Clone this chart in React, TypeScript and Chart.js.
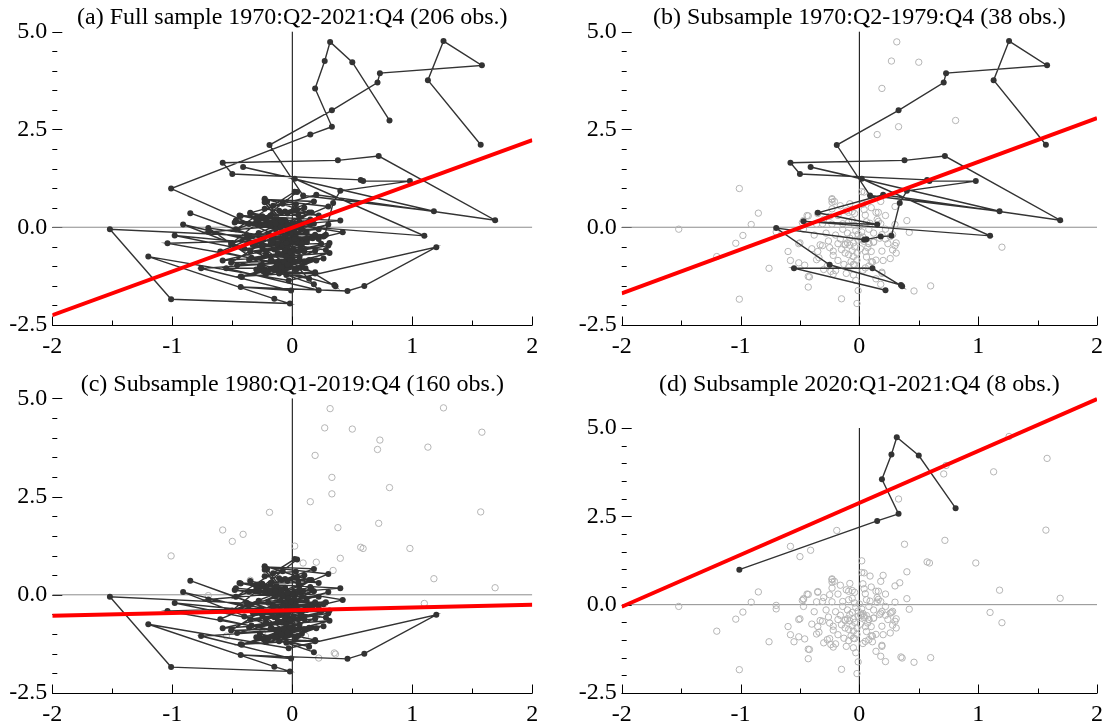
import { useEffect, useRef } from "react";
import { Chart, registerables } from "chart.js";

Chart.register(...registerables);

// ---------------- data ----------------
const x1970s = [1.57, 1.13, 1.26, 1.58, 0.73, 0.71, 0.33, -0.19, 0.09, 1.18, -0.41, 0.02, 1.10, -0.47, 0.15, -0.35, 0.20, 1.69, 0.72, 0.38, -0.58, -0.50, 0.57, 0.59, 0.98, 0.40, 0.34, 0.27, 0.18, 0.06, 0.04, -0.70, -0.25, 0.35, 0.36, 0.11, -0.55, 0.22];
const y1970s = [2.11, 3.76, 4.76, 4.14, 3.94, 3.70, 2.99, 2.10, 0.81, 0.41, 1.54, 1.24, -0.22, 0.15, 0.07, 0.37, 0.83, 0.18, 1.82, 1.71, 1.65, 1.36, 1.21, 1.18, 1.18, 0.93, 0.62, -0.22, -0.24, -0.31, -0.32, -0.02, -0.96, -1.48, -1.51, -1.05, -1.05, -1.61];

const x1980s = [
  -0.12, -0.85, 0.05, -0.91, -0.05, -1.04, 0.22, -1.52, -1.01, -0.02,
  -0.15, -1.20, -0.03, 1.20, 0.60, 0.46, -0.43, -0.01, -0.76, 0.10,
  -0.98, 0.28, -0.70, 0.40, -0.44, 0.42, -0.58, 0.31, -0.43, 0.19,
  -0.60, 0.30, -0.23, 0.18, -0.47, 0.02, 0.04, -0.51, 0.15, -0.50,
  0.16, -0.51, 0.14, -0.46, 0.31, -0.36, 0.30, -0.34, 0.19, -0.42,
  0.11, -0.30, 0.08, -0.24, 0.05, -0.22, 0.19, -0.20, 0.14, -0.27,
  0.18, -0.05, -0.11, 0.20, -0.13, 0.26, -0.18, 0.06, -0.22, 0.10,
  -0.33, 0.24, -0.31, 0.12, -0.40, 0.08, -0.35, 0.07, -0.22, 0.17,
  -0.38, 0.19, -0.28, 0.28, -0.26, 0.26, -0.16, 0.30, -0.18, 0.18,
  -0.20, 0.16, -0.14, 0.22, -0.10, 0.12, -0.06, 0.09, -0.03, 0.06,
  -0.36, 0.08, -0.31, 0.02, -0.48, 0.00, -0.47, -0.04, -0.43, -0.06,
  -0.35, -0.09, -0.25, -0.14, -0.30, -0.23, -0.18, 0.05, -0.11, 0.14,
  -0.09, 0.04, -0.06, 0.10, -0.04, 0.03, -0.16, -0.08, -0.23, 0.22,
  -0.23, -0.01, -0.21, 0.01, -0.23, -0.01, -0.12, 0.03, -0.10, 0.04,
  -0.08, -0.04, -0.15, 0.01, -0.12, -0.06, -0.09, -0.02, -0.05, -0.02,
  -0.07, 0.03, -0.04, -0.25, -0.09, 0.12, 0.08, -0.05, 0.02, -0.08,
];
const y1980s = [
  -0.45, 0.36, -0.62, 0.07, -0.95, -0.41, -0.30, -0.05, -1.84, -1.95,
  -1.83, -0.75, -1.36, -0.51, -1.50, -1.63, -1.53, -1.62, -1.05, -0.88,
  -0.21, -0.58, -0.12, 0.17, 0.30, -0.13, -0.85, -0.66, -1.26, -1.15,
  -0.62, 0.53, 0.71, 0.66, -0.05, 0.91, 0.90, -0.42, 0.20, -0.40,
  0.38, -0.91, -0.84, -0.97, -0.40, -0.83, -0.47, -0.78, -0.61, -1.27,
  -0.89, -1.08, -0.99, -1.13, -1.04, -1.20, -1.18, -1.11, -1.32, -0.99,
  -1.46, -1.22, -1.18, -0.85, -0.95, -0.80, -0.85, -0.76, -0.72, -0.62,
  -0.45, -0.42, -0.47, -0.38, -0.55, -0.42, -0.62, -0.52, -0.61, -0.28,
  -0.20, -0.19, -0.15, -0.19, -0.35, -0.24, -0.30, 0.07, -0.42, 0.09,
  -0.20, 0.15, -0.05, -0.05, -0.15, -0.15, -0.22, 0.10, -0.08, 0.14,
  0.08, -0.05, 0.09, -0.12, 0.12, 0.02, 0.17, 0.05, 0.29, 0.18,
  0.35, 0.14, 0.28, 0.09, 0.20, 0.08, 0.30, 0.31, 0.42, 0.38,
  0.38, 0.45, 0.40, 0.50, 0.35, 0.59, 0.55, 0.60, 0.47, 0.30,
  0.73, -0.18, 0.66, -0.28, 0.64, -0.33, -0.43, -0.25, -0.40, -0.36,
  -0.46, -0.50, -0.57, -0.55, -0.66, -0.60, -0.70, -0.66, -0.75, -0.84,
  -0.88, -1.10, -0.96, -0.52, -1.02, -0.38, -0.42, -0.40, -0.30, -0.28,
];

const x2020s = [-1.01, 0.15, 0.33, 0.19, 0.27, 0.315, 0.50, 0.81];
const y2020s = [0.99, 2.37, 2.57, 3.55, 4.25, 4.74, 4.22, 2.73];

// regression lines (intercept, slope) for panels a, b, c, d
const fitIntercepts = [-0.01, 0.55, -0.39, 2.88];
const fitSlopes = [1.12, 1.12, 0.07, 1.47];

const panelTitles = [
  "(a) Full sample 1970:Q2-2021:Q4 (206 obs.)",
  "(b) Subsample 1970:Q2-1979:Q4 (38 obs.)",
  "(c) Subsample 1980:Q1-2019:Q4 (160 obs.)",
  "(d) Subsample 2020:Q1-2021:Q4 (8 obs.)",
];

const xTickValues = [-2, -1, 0, 1, 2];
const xTickLabels = ["-2", "-1", "0", "1", "2"];
const yTickValues = [-2.5, 0, 2.5, 5];
const yTickLabels = ["-2.5", "0.0", "2.5", "5.0"];

// ---------------- helpers ----------------
const pts = (xs: number[], ys: number[]) => xs.map((x, i) => ({ x, y: ys[i] }));

const FONT = '"Liberation Serif", "Times New Roman", serif';
const FONT_SIZE = 24;

const framePlugin = {
  id: "frame",
  beforeDatasetsDraw(chart: any) {
    const { ctx, chartArea: ca, scales } = chart;
    const xs = scales.x;
    const ys = scales.y;
    const yb = Math.round(ys.getPixelForValue(-2.5)) + 0.5;
    ctx.save();
    ctx.strokeStyle = "#000";
    ctx.lineWidth = 1;
    ctx.beginPath();
    ctx.moveTo(ca.left, yb);
    ctx.lineTo(ca.right, yb);
    for (let k = 0; k <= 8; k++) {
      const v = -2 + k * 0.5;
      const px = Math.round(xs.getPixelForValue(v)) + 0.5;
      const len = k % 2 === 0 ? 9 : 5;
      ctx.moveTo(px, yb);
      ctx.lineTo(px, yb - len);
    }
    for (let k = 0; k <= 15; k++) {
      const v = -2.5 + k * 0.5;
      const py = Math.round(ys.getPixelForValue(v)) + 0.5;
      const len = k % 5 === 0 ? 10 : 5;
      ctx.moveTo(ca.left, py);
      ctx.lineTo(ca.left + len, py);
    }
    ctx.stroke();
    ctx.restore();
  },
  afterDraw(chart: any, _args: any, opts: any) {
    const { ctx, chartArea: ca } = chart;
    ctx.save();
    ctx.fillStyle = "#000";
    ctx.font = `${FONT_SIZE}px ${FONT}`;
    ctx.textAlign = "center";
    ctx.textBaseline = "alphabetic";
    ctx.fillText(opts.title, (ca.left + ca.right) / 2, opts.titleY);
    ctx.restore();
  },
};

type PanelSpec = {
  idx: number;
  left: number;
  top: number;
  width: number;
  height: number;
  areaLeft: number;
  areaRight: number;
  areaTop: number;
  areaBottom: number;
  yMax: number;
  titleY: number;
  path: { x: number; y: number }[];
  grey: { x: number; y: number }[];
};

function Panel({ spec }: { spec: PanelSpec }) {
  const ref = useRef<HTMLCanvasElement | null>(null);
  useEffect(() => {
    if (!ref.current) return;
    const a = fitIntercepts[spec.idx];
    const b = fitSlopes[spec.idx];
    const fit = [
      { x: -2, y: a + b * -2 },
      { x: 2, y: a + b * 2 },
    ];
    const chart = new Chart(ref.current, {
      type: "scatter",
      data: {
        datasets: [
          {
            data: [{ x: 0, y: -2.5 }, { x: 0, y: 5 }],
            showLine: true,
            borderColor: "#000",
            borderWidth: 1,
            pointRadius: 0,
            order: 6,
          },
          {
            data: [{ x: -2, y: 0 }, { x: 2, y: 0 }],
            showLine: true,
            borderColor: "#8c8c8c",
            borderWidth: 1,
            pointRadius: 0,
            order: 5,
          },
          {
            data: spec.grey,
            showLine: false,
            pointRadius: 3.2,
            pointBorderWidth: 1,
            pointBorderColor: "#b5b5b5",
            pointBackgroundColor: "rgba(255,255,255,0)",
            order: 4,
          },
          {
            data: spec.path,
            showLine: true,
            borderColor: "#333333",
            borderWidth: 1.4,
            pointRadius: 3,
            pointBorderWidth: 0,
            pointBackgroundColor: "#333333",
            order: 3,
          },
          {
            data: fit,
            showLine: true,
            borderColor: "#ff0000",
            borderWidth: 4,
            pointRadius: 0,
            order: 1,
          },
        ],
      },
      options: {
        animation: false,
        responsive: false,
        events: [],
        layout: {
          padding: {
            left: 0,
            right: spec.width - spec.areaRight,
            top: spec.areaTop,
            bottom: 0,
          },
        },
        plugins: {
          legend: { display: false },
          tooltip: { enabled: false },
          title: { display: false },
          // @ts-ignore
          frame: { title: panelTitles[spec.idx], titleY: spec.titleY },
        },
        scales: {
          x: {
            type: "linear",
            min: -2,
            max: 2,
            grid: { display: false, drawTicks: false },
            border: { display: false },
            afterBuildTicks: (s: any) => {
              s.ticks = xTickValues.map((v) => ({ value: v }));
            },
            afterFit: (s: any) => {
              s.height = spec.height - spec.areaBottom;
            },
            ticks: {
              autoSkip: false,
              maxRotation: 0,
              padding: 7,
              color: "#000",
              font: { family: FONT, size: FONT_SIZE },
              callback: (v: any) => xTickLabels[xTickValues.indexOf(Number(v))] ?? "",
            },
          },
          y: {
            type: "linear",
            min: -2.5,
            max: spec.yMax,
            grid: { display: false, drawTicks: false },
            border: { display: false },
            afterBuildTicks: (s: any) => {
              s.ticks = yTickValues.map((v) => ({ value: v }));
            },
            afterFit: (s: any) => {
              s.width = spec.areaLeft;
            },
            ticks: {
              autoSkip: false,
              padding: 5,
              color: "#000",
              font: { family: FONT, size: FONT_SIZE },
              callback: (v: any) => yTickLabels[yTickValues.indexOf(Number(v))] ?? "",
            },
          },
        },
      },
      plugins: [framePlugin as any],
    });
    return () => chart.destroy();
  }, [spec]);

  return (
    <canvas
      ref={ref}
      width={spec.width}
      height={spec.height}
      style={{ position: "absolute", left: spec.left, top: spec.top, width: spec.width, height: spec.height }}
    />
  );
}

const p70 = pts(x1970s, y1970s);
const p80 = pts(x1980s, y1980s);
const p20 = pts(x2020s, y2020s);

const specs: PanelSpec[] = [
  {
    idx: 0, left: 0, top: 0, width: 555, height: 362,
    areaLeft: 52.3, areaRight: 532.3, areaTop: 27.8, areaBottom: 325,
    yMax: 5.1, titleY: 24, path: [...p70, ...p80, ...p20], grey: [],
  },
  {
    idx: 1, left: 568, top: 0, width: 542, height: 362,
    areaLeft: 53.7, areaRight: 531.7, areaTop: 27.8, areaBottom: 325,
    yMax: 5.1, titleY: 24, path: p70, grey: [...p80, ...p20],
  },
  {
    idx: 2, left: 0, top: 362, width: 555, height: 362,
    areaLeft: 52.3, areaRight: 532.3, areaTop: 32.5, areaBottom: 331,
    yMax: 5.1, titleY: 29, path: p80, grey: [...p70, ...p20],
  },
  {
    idx: 3, left: 568, top: 362, width: 542, height: 362,
    areaLeft: 53.7, areaRight: 531.7, areaTop: 34.2, areaBottom: 331,
    yMax: 5.9, titleY: 29, path: p20, grey: [...p70, ...p80],
  },
];

export default function App() {
  return (
    <div style={{ position: "absolute", left: 0, top: 0, width: 1110, height: 724, background: "#fff" }}>
      {specs.map((s) => (
        <Panel key={s.idx} spec={s} />
      ))}
    </div>
  );
}
